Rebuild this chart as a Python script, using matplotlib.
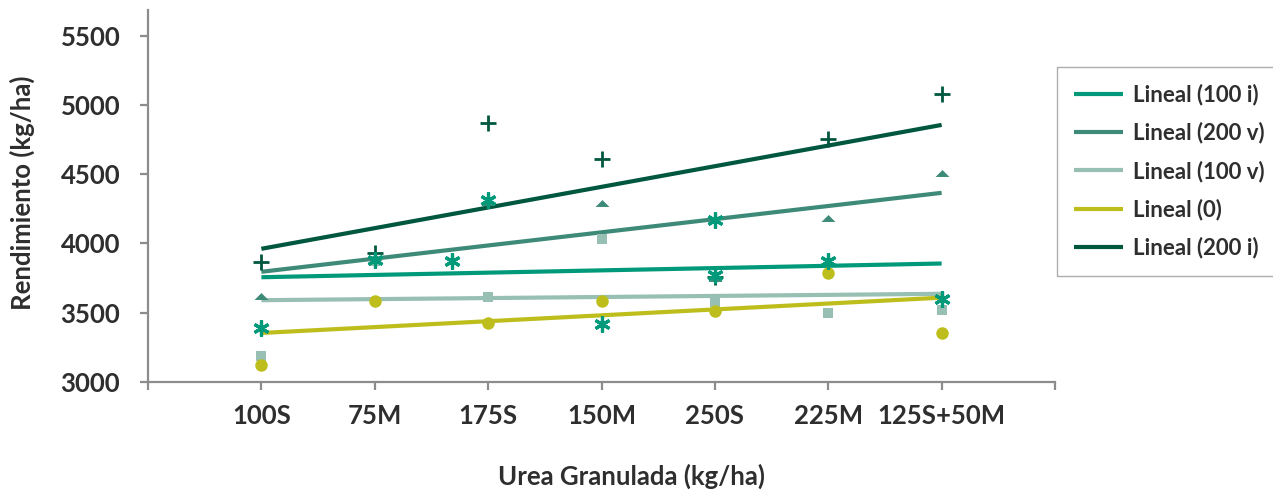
import numpy as np
import matplotlib
matplotlib.use('Agg')
import matplotlib.pyplot as plt

plt.rcParams['font.family'] = ['Lato', 'DejaVu Sans']
plt.rcParams['font.weight'] = 'bold'

# urea treatments on the x axis
categories = ['100S', '75M', '175S', '150M', '250S', '225M', '125S+50M']

# yield (kg/ha), one list per treatment series
rend_100i = [3393, 3877, 4311, 3417, 4172, 3870, 3598]
rend_200v = [3623, 3905, 4300, 4293, 3750, 4180, 4509]
rend_100v = [3188, 3870, 3611, 4033, 3574, 3495, 3522]
rend_0 = [3123, 3581, 3428, 3581, 3514, 3788, 3353]
rend_200i = [3865, 3930, 4867, 4606, 3760, 4751, 5077]

# two stray asterisks that sit off the category grid
extra_x = [2.68, 5.0]
extra_y = [3870, 3770]

yticks = [3000, 3500, 4000, 4500, 5000, 5500]

col_100i = '#009a7b'
col_200v = '#3e8a78'
col_100v = '#97bfb3'
col_0 = '#bdbe1b'
col_200i = '#00573f'
txt = '#2e2e2e'
axcol = '#8c8c8c'

flat_tri = [(-1, -0.5), (1, -0.5), (0, 0.5), (-1, -0.5)]

# label, values, colour, marker style, marker zorder
series = [
    ('Lineal (100 i)', rend_100i, col_100i, dict(marker=(6, 2, 0), ms=11.5, mew=2.3), 6),
    ('Lineal (200 v)', rend_200v, col_200v, dict(marker=flat_tri, ms=10, mew=0), 4),
    ('Lineal (100 v)', rend_100v, col_100v, dict(marker='s', ms=7.5, mew=0), 3),
    ('Lineal (0)', rend_0, col_0, dict(marker='o', ms=9, mew=0), 4),
    ('Lineal (200 i)', rend_200i, col_200i, dict(marker='+', ms=11, mew=2.0), 5),
]


def main():
    fig = plt.figure(figsize=(12.73, 4.93), dpi=100)
    ax = fig.add_axes([148 / 1273, 1 - 382 / 493, 907 / 1273, 372 / 493])

    x = np.arange(1, len(categories) + 1)

    # trend lines first, markers drawn on top
    for label, vals, col, mk, z in series:
        a, b = np.polyfit(x, vals, 1)
        ax.plot(x, a * x + b, color=col, lw=3.0, solid_capstyle='butt', label=label, zorder=2)

    for label, vals, col, mk, z in series:
        ax.plot(x, vals, ls='none', color=col, mec=col, mfc=col, zorder=z, **mk)

    ax.plot(extra_x, extra_y, ls='none', color=col_100i, marker=(6, 2, 0), ms=11.5, mew=2.3, zorder=6)

    ax.set_xlim(0, 8)
    ax.set_ylim(3000, 5684)
    ax.set_xticks(np.arange(0, 9))
    ax.set_xticklabels([''] + categories + [''])
    ax.set_yticks(yticks)
    ax.set_yticklabels([str(v) for v in yticks])

    for s in ['top', 'right']:
        ax.spines[s].set_visible(False)
    for s in ['left', 'bottom']:
        ax.spines[s].set_color(axcol)
        ax.spines[s].set_linewidth(1.6)

    ax.tick_params(axis='x', direction='out', length=6, width=1.6, color=axcol,
                   labelsize=18.5, labelcolor=txt, pad=10)
    ax.tick_params(axis='y', direction='out', length=6, width=1.6, color=axcol,
                   labelsize=18.5, labelcolor=txt, pad=14)

    ax.set_xlabel('Urea Granulada (kg/ha)', fontsize=18.5, color=txt, fontweight='bold')
    ax.xaxis.set_label_coords(0.5336, -0.2527)
    ax.set_ylabel('Rendimiento (kg/ha)', fontsize=18.5, color=txt, fontweight='bold')
    ax.yaxis.set_label_coords(-0.139, 0.508)
    ax.xaxis.label.set_va('center')
    ax.yaxis.label.set_va('center')

    leg = ax.legend(loc='upper left', bbox_to_anchor=(1057 / 1273, 1 - 67 / 493),
                    bbox_transform=fig.transFigure, frameon=True, fancybox=False,
                    fontsize=16, handlelength=2.2, handletextpad=0.45,
                    labelspacing=0.75, borderpad=0.75, borderaxespad=0)
    leg.get_frame().set_edgecolor('#999999')
    leg.get_frame().set_linewidth(1.0)
    for t in leg.get_texts():
        t.set_color(txt)

    fig.savefig('out.png', dpi=100)


if __name__ == "__main__":
    main()
